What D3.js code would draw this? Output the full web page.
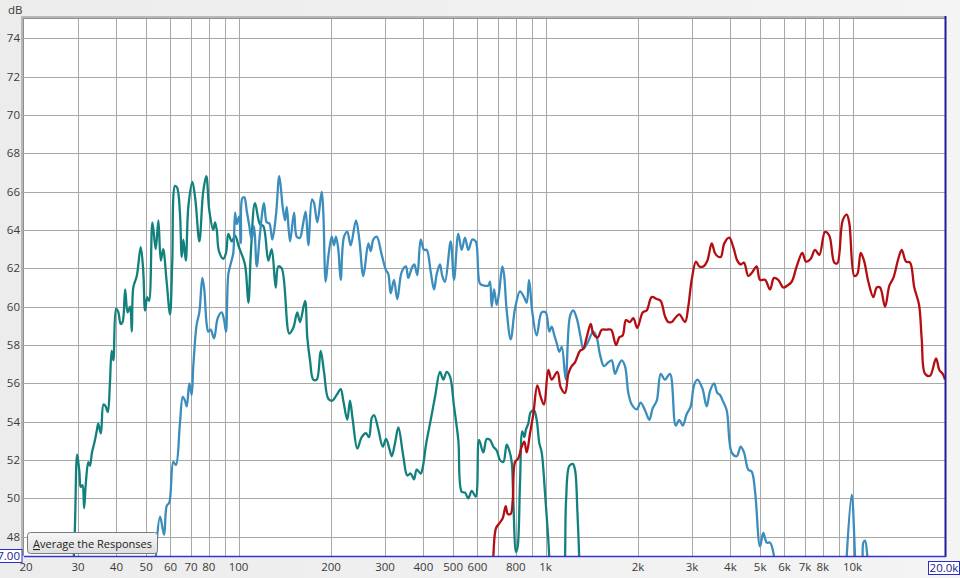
<!DOCTYPE html>
<html>
<head>
<meta charset="utf-8">
<script src="https://cdn.jsdelivr.net/npm/d3@7"></script>
<style>
	html, body { margin: 0; padding: 0; background: #f0f0f0; }
	svg { display: block; font-family: "Segoe UI", "Open Sans", sans-serif; }
</style>
</head>
<body>
<div id="chart"></div>
<script>
// frequency axis
const xGridValues = [20, 30, 40, 50, 60, 70, 80, 90, 100, 200, 300, 400, 500, 600, 700, 800, 900,
	1000, 2000, 3000, 4000, 5000, 6000, 7000, 8000, 9000, 10000, 20000];
const xTickValues = [20, 30, 40, 50, 60, 70, 80, 100, 200, 300, 400, 500, 600, 800,
	1000, 2000, 3000, 4000, 5000, 6000, 7000, 8000, 10000, 20000];
const xTickLabels = ['20', '30', '40', '50', '60', '70', '80', '100', '200', '300', '400', '500', '600', '800',
	'1k', '2k', '3k', '4k', '5k', '6k', '7k', '8k', '10k', '20k'];
const yTickValues = [48, 50, 52, 54, 56, 58, 60, 62, 64, 66, 68, 70, 72, 74];

// woofer (teal)
const wooferFreq = [28.7, 29.3, 29.8, 30.3, 30.6, 31.0, 31.4, 31.8, 32.4, 32.8, 33.3, 33.9, 34.5, 34.9, 35.6, 36.3, 36.9, 37.5,
	38.1, 38.6, 39.1, 39.9, 40.6, 41.3, 41.9, 42.7, 43.5, 44.3, 44.9, 45.4, 46.6, 48.0, 48.9, 49.6, 50.4, 51.1,
	52.4, 53.7, 54.8, 55.8, 56.8, 58.3, 59.8, 60.8, 62.1, 63.1, 64.4, 65.3, 66.1, 67.3, 68.6, 70.7, 72.3, 74.5,
	76.7, 78.5, 80.3, 82.7, 83.8, 84.9, 86.3, 89.2, 91.0, 92.6, 95.0, 97.4, 100.3, 104.9, 107.6, 109.8, 113.1,
	117.4, 120.4, 125.0, 128.2, 132.1, 134.7, 138.2, 146.3, 150.8, 155.3, 158.5, 164.6, 167.4, 170.9, 175.1,
	179.7, 185.1, 189.8, 196.0, 201.9, 208.7, 215.1, 219.3, 226.0, 230.6, 235.4, 243.7, 251.8, 260.0, 266.0,
	271.5, 276.2, 285.2, 294.8, 302.2, 309.8, 315.4, 323.4, 331.5, 344.0, 354.4, 363.6, 372.8, 380.4, 392.0,
	397.8, 407.8, 422.6, 436.4, 453.0, 464.4, 476.4, 488.4, 503.2, 519.6, 533.0, 546.4, 560.2, 574.6, 592.2,
	607.0, 626.8, 643.0, 659.2, 675.8, 693.0, 710.4, 728.2, 747.0, 761.8, 775.6, 785.0, 801.0, 811.2, 825.4,
	839.8, 852.4, 863.4, 878.4, 894.4, 916.6, 935.4, 953.8, 971.2, 995.6, 1021, 1042, 1100, 1148, 1166,
	1195, 1226, 1247, 1269, 1295];
const wooferDb = [44.7, 48.5, 52.3, 51.4, 50.6, 50.7, 49.5, 50.8, 51.9, 51.7, 52.4, 52.9, 53.5, 53.9, 53.4, 54.9, 54.8, 54.5,
	56.0, 57.7, 57.2, 59.9, 59.7, 59.1, 59.2, 60.9, 59.7, 60.0, 58.7, 61.0, 61.6, 63.1, 61.9, 59.8, 60.5, 60.3,
	64.4, 63.0, 64.5, 62.4, 63.0, 61.3, 59.6, 62.3, 66.3, 66.2, 64.9, 62.6, 63.5, 62.4, 65.2, 66.5, 65.6, 63.4,
	66.0, 66.8, 65.0, 64.0, 64.4, 64.0, 62.9, 62.5, 62.8, 63.8, 63.4, 63.7, 63.1, 62.2, 60.2, 63.0, 65.4,
	64.3, 64.2, 62.4, 63.0, 61.0, 62.1, 62.0, 58.6, 58.9, 59.7, 59.2, 60.3, 58.4, 57.2, 56.2,
	56.2, 57.7, 56.6, 55.2, 55.1, 55.4, 55.7, 55.1, 54.1, 55.1, 54.1, 52.6, 53.2, 53.4, 53.2,
	54.2, 54.35, 53.6, 52.7, 53.1, 52.6, 52.2, 52.9, 53.7, 52.2, 51.2, 51.3, 51.0, 51.5, 51.3,
	51.6, 52.8, 54.1, 55.3, 56.6, 56.2, 56.6, 56.35, 54.8, 53.05, 50.35, 50.3, 50.0, 50.4, 50.1,
	53.05, 52.4, 53.1, 53.05, 52.7, 52.5, 52.0, 51.9, 52.8, 52.5, 51.9, 49.9, 47.2, 47.5, 50.8,
	53.5, 53.2, 53.6, 53.9, 54.5, 54.6, 54.1, 52.9, 52.4, 50.3, 47.8, 45.7, 44.0, 45.7, 49.9,
	51.7, 51.8, 51.5, 49.4, 45.7];

// mid (blue)
const midFreq = [53.4, 54.1, 55.5, 57.2, 58.3, 59.5, 61.3, 62.5, 64.4, 65.8, 66.9, 67.8, 69.1, 70.3, 71.2, 73.0, 74.5,
	76.2, 77.3, 78.7, 79.7, 81.1, 83.2, 85.5, 88.1, 89.7, 91.0, 92.6, 94.5, 96.1, 97.4, 98.6, 100.3, 101.8,
	102.8, 104.4, 106.3, 108.4, 110.3, 112.3, 114.6, 117.4, 121.0, 123.5, 125.9, 128.8, 132.4, 135.7, 139.2,
	141.7, 143.5, 147.1, 151.6, 154.7, 158.5, 161.7, 165.4, 168.7, 173.4, 176.1, 180.5, 186.5, 188.8, 192.2,
	196.0, 201.1, 204.5, 207.6, 211.2, 215.1, 220.5, 226.0, 231.8, 241.2, 247.3, 254.9, 264.6, 269.4, 274.7,
	281.8, 292.6, 302.2, 307.5, 313.0, 320.8, 328.8, 339.8, 350.9, 357.0, 366.4, 373.6, 382.0, 392.0, 401.8,
	410.0, 422.6, 433.2, 442.0, 453.0, 460.8, 470.2, 490.8, 503.2, 519.6, 533.0, 546.4, 560.2, 577.2, 592.2,
	611.6, 630.2, 650.8, 659.2, 667.6, 679.2, 693.0, 705.2, 722.8, 732.0, 747.0, 769.8, 795.2, 825.4, 850.6,
	868.0, 883.2, 905.4, 935.4, 971.2, 1001, 1028, 1047, 1068, 1087, 1108, 1129, 1163, 1201, 1231, 1263, 1301,
	1327, 1368, 1430, 1467, 1504, 1550, 1601, 1642, 1683, 1725, 1770, 1814, 1860, 1908, 1981, 2040, 2108,
	2178, 2232, 2302, 2372, 2448, 2542, 2654, 2726, 2798, 2882, 2970, 3044, 3122, 3240, 3348, 3432, 3538,
	3626, 3700, 3774, 3890, 4038, 4192, 4320, 4428, 4574, 4692, 4810, 4994, 5118, 5252, 5384, 5546, 5674,
	9448, 9570, 9936, 10184, 10338, 10652, 10838, 10976, 11168, 11310];
const midDb = [44.7, 47.7, 49.05, 48.1, 49.6, 49.8, 51.9, 51.75, 53.9, 55.3, 55.1, 54.8, 56.0, 55.4, 56.9, 59.05, 59.7,
	61.5, 60.9, 59.1, 58.7, 58.8, 58.35, 59.4, 59.7, 59.3, 58.7, 61.7, 62.3, 62.8, 64.9, 64.3, 64.7, 63.3,
	65.65, 65.7, 65.0, 64.2, 63.5, 64.2, 62.1, 63.8, 65.4, 64.4, 64.35, 63.5, 64.8, 66.8, 65.2,
	64.5, 65.2, 63.4, 64.9, 63.65, 63.6, 64.2, 64.95, 63.2, 65.6, 65.4, 64.4, 66.0, 64.9, 61.3,
	62.6, 63.65, 63.2, 63.65, 63.0, 61.4, 63.65, 63.9, 63.2, 64.5, 63.5, 61.6, 63.3, 62.9, 63.5,
	63.65, 62.7, 61.9, 61.7, 60.7, 61.4, 60.4, 61.8, 62.1, 61.5, 62.0, 62.2, 61.65, 63.5, 62.96,
	62.96, 61.8, 60.9, 61.7, 62.2, 61.6, 61.3, 63.4, 61.4, 63.8, 62.96, 63.6, 62.96, 63.5, 63.4,
	61.2, 61.1, 61.1, 61.3, 60.0, 60.9, 60.1, 60.7, 62.1, 61.7, 59.8, 58.3, 59.9, 60.8, 60.5,
	60.2, 61.4, 59.7, 58.5, 59.7, 59.7, 58.7, 58.96, 58.5, 58.1, 57.65, 57.9, 56.2, 59.5, 59.8, 59.4, 58.4,
	57.8, 58.1, 58.7, 58.4, 57.5, 56.9, 57.1, 57.2, 56.5, 56.9, 57.2, 56.9, 55.5, 54.9, 54.65, 55.0, 54.6,
	54.1, 54.7, 55.1, 56.5, 56.2, 56.5, 53.8, 54.1, 53.8, 54.4, 54.8, 55.9, 56.2, 55.75, 54.8, 55.6, 56.0,
	55.5, 55.4, 55.1, 54.6, 52.4, 52.2, 52.7, 52.4, 51.5, 51.4, 50.4, 47.5, 48.2, 47.7, 47.7, 47.0, 44.7,
	44.7, 47.0, 50.2, 47.0, 44.7, 44.7, 47.7, 47.8, 47.0, 44.7];

// tweeter (red)
const tweeterFreq = [668.8, 675.8, 689.4, 706.8, 725.0, 741.6, 752.8, 769.8, 781.6, 795.2, 815.2, 836.0, 852.4, 868.0,
	889.8, 912.0, 939.8, 964.0, 988.2, 1021, 1047, 1092, 1120, 1157, 1186, 1216, 1247, 1295, 1327, 1361, 1403,
	1430, 1478, 1524, 1581, 1634, 1696, 1738, 1783, 1828, 1883, 1931, 1989, 2072, 2134, 2216, 2302, 2372,
	2448, 2510, 2576, 2640, 2726, 2846, 2916, 2992, 3090, 3168, 3264, 3364, 3476, 3562, 3652, 3726, 3820,
	3966, 4088, 4212, 4320, 4428, 4574, 4714, 4870, 4994, 5186, 5384, 5546, 5728, 5948, 6128, 6334, 6576,
	6858, 7052, 7304, 7544, 7792, 8132, 8398, 8718, 8918, 9286, 9570, 9758, 10134, 10360, 10628, 10896,
	11254, 11684, 11986, 12288, 12758, 13176, 13576, 14094, 14456, 14930, 15382, 15886, 16462, 16798,
	17218, 17872, 18698, 19166, 19662, 20000];
const tweeterDb = [44.7, 47.0, 48.45, 48.7, 48.97, 49.6, 49.2, 49.2, 49.9, 51.9, 52.1, 52.7, 52.96, 52.4,
	53.4, 54.4, 55.9, 55.3, 54.9, 56.7, 56.2, 56.6, 55.8, 55.5, 56.5, 56.9, 57.1, 57.7, 57.8, 58.4, 59.1,
	58.6, 58.4, 58.8, 58.8, 58.8, 58.0, 58.4, 58.5, 59.3, 59.2, 59.4, 58.9, 59.7, 59.8, 60.5, 60.4, 60.3,
	59.5, 59.2, 59.2, 59.4, 59.6, 59.2, 60.0, 61.4, 62.35, 62.1, 62.1, 62.4, 63.3, 62.8, 62.6, 62.6, 63.3,
	63.6, 63.1, 62.4, 62.2, 62.3, 61.6, 61.8, 62.1, 61.4, 61.4, 60.9, 61.5, 61.4, 61.0, 61.1, 61.3, 62.1,
	62.8, 62.35, 62.5, 62.96, 62.7, 63.9, 63.7, 62.3, 62.26, 64.5, 64.8, 64.35, 61.6, 61.7, 62.8, 62.4,
	61.3, 60.5, 61.0, 61.0, 60.0, 61.1, 61.5, 62.5, 62.96, 62.35, 62.3, 61.0, 60.1, 58.3,
	56.5, 56.4, 57.3, 56.7, 56.5, 56.2];

const seriesColors = ['#12807c', '#3b8dbd', '#b40d12'];

class ResponseChart
{
	#svg;
	#x;
	#y;
	#margin = {top: 19, right: 15, bottom: 22, left: 24};

	constructor(container, width, height)
	{
		this.width = width;
		this.height = height;
		this.#svg = d3.select(container)
			.append("svg")
				.attr("width", width)
				.attr("height", height);
		this.#x = d3.scaleLog()
			.domain([20, 20000])
			.range([this.#margin.left, width - this.#margin.right]);
		this.#y = d3.scaleLinear()
			.domain([47, 75])
			.range([height - this.#margin.bottom, this.#margin.top]);
		this.#drawFrame();
		this.#drawGrid();
	}

	#drawFrame() {
		var m = this.#margin;
		var svg = this.#svg;
		var bg = svg.append("defs")
			.append("linearGradient")
				.attr("id", "bg-grad")
				.attr("x1", 0).attr("x2", 1).attr("y1", 0).attr("y2", 0);
		bg.append("stop").attr("offset", "0%").attr("stop-color", "#ececec");
		bg.append("stop").attr("offset", "100%").attr("stop-color", "#f4f4f4");
		svg.append("rect")
			.attr("width", this.width)
			.attr("height", this.height)
			.attr("fill", "url(#bg-grad)");
		// sunken shadow on top and left of the plot
		svg.append("rect")
			.attr("x", m.left - 3)
			.attr("y", m.top - 3)
			.attr("width", this.width - m.left - m.right + 3)
			.attr("height", this.height - m.top - m.bottom + 3)
			.attr("fill", "#b8b8b8");
		svg.append("rect")
			.attr("x", m.left - 1)
			.attr("y", m.top - 1)
			.attr("width", this.width - m.left - m.right + 1)
			.attr("height", this.height - m.top - m.bottom + 1)
			.attr("fill", "#8e8e8e");
		svg.append("rect")
			.attr("x", m.left)
			.attr("y", m.top)
			.attr("width", this.width - m.left - m.right)
			.attr("height", this.height - m.top - m.bottom)
			.attr("fill", "white");
		svg.append("clipPath")
			.attr("id", "plot-clip")
			.append("rect")
				.attr("x", m.left)
				.attr("y", m.top)
				.attr("width", this.width - m.left - m.right)
				.attr("height", this.height - m.top - m.bottom);
	}

	#drawGrid() {
		var m = this.#margin;
		var x = this.#x, y = this.#y;
		var svg = this.#svg;
		var grid = svg.append("g").attr("stroke", "#a8a8a8").attr("stroke-width", 1);
		grid.selectAll("line.v")
			.data(xGridValues.slice(1, -1))
			.enter()
			.append("line")
				.attr("x1", d => Math.round(x(d)) + 0.5)
				.attr("x2", d => Math.round(x(d)) + 0.5)
				.attr("y1", m.top)
				.attr("y2", this.height - m.bottom);
		grid.selectAll("line.h")
			.data(yTickValues)
			.enter()
			.append("line")
				.attr("x1", m.left - 3)
				.attr("x2", this.width - m.right)
				.attr("y1", d => Math.round(y(d)) + 0.5)
				.attr("y2", d => Math.round(y(d)) + 0.5);

		svg.append("g")
			.selectAll("text")
			.data(yTickValues)
			.enter()
			.append("text")
				.attr("x", m.left - 4)
				.attr("y", d => y(d) + 4)
				.attr("text-anchor", "end")
				.attr("font-size", "11.5px")
				.attr("fill", "#3a3a3a")
				.text(d => d);
		svg.append("text")
			.attr("x", 8)
			.attr("y", 14)
			.attr("font-size", "11.5px")
			.attr("fill", "#3a3a3a")
			.text("dB");

		svg.append("g")
			.selectAll("text")
			.data(xTickValues)
			.enter()
			.append("text")
				.attr("x", (d, i) => x(d) + (i == 0 ? 2 : 0))
				.attr("y", this.height - 7)
				.attr("text-anchor", "middle")
				.attr("font-size", "11.5px")
				.attr("fill", "#3a3a3a")
				.text((d, i) => xTickLabels[i]);
	}

	addTrace(freqs, dbs, color) {
		var x = this.#x, y = this.#y;
		var points = freqs.map((f, i) => [f, dbs[i]]);
		var line = d3.line()
			.curve(d3.curveCatmullRom.alpha(0.5))
			.x(d => x(d[0]))
			.y(d => y(d[1]));
		this.#svg.append("path")
			.datum(points)
			.attr("clip-path", "url(#plot-clip)")
			.attr("d", line)
			.attr("fill", "none")
			.attr("stroke", color)
			.attr("stroke-width", 2.3)
			.attr("stroke-linejoin", "round");
	}

	drawOverlay() {
		var m = this.#margin;
		var svg = this.#svg;
		var right = this.width - m.right;
		var bottom = this.height - m.bottom;
		svg.append("line")
			.attr("x1", right + 0.5).attr("x2", right + 0.5)
			.attr("y1", m.top - 3).attr("y2", bottom + 1)
			.attr("stroke", "#1e1e9a").attr("stroke-width", 2);
		svg.append("line")
			.attr("x1", m.left).attr("x2", right + 1)
			.attr("y1", bottom + 0.5).attr("y2", bottom + 0.5)
			.attr("stroke", "#3434c8").attr("stroke-width", 1.5);

		// range boxes at both ends of the axes
		svg.append("rect")
			.attr("x", -10).attr("y", 549.5)
			.attr("width", 32).attr("height", 13)
			.attr("fill", "white").attr("stroke", "#2b2bd0");
		svg.append("text")
			.attr("x", 20).attr("y", 560)
			.attr("text-anchor", "end")
			.attr("font-size", "11.5px")
			.attr("fill", "#1c1c8c")
			.text("47.00");
		svg.append("rect")
			.attr("x", 928.5).attr("y", 561.5)
			.attr("width", 31).attr("height", 13)
			.attr("fill", "white").attr("stroke", "#2b2bd0");
		svg.append("text")
			.attr("x", 944).attr("y", 572)
			.attr("text-anchor", "middle")
			.attr("font-size", "11.5px")
			.attr("fill", "#1c1c8c")
			.text("20.0k");

		var grad = svg.append("defs")
			.append("linearGradient")
				.attr("id", "btn-grad")
				.attr("x1", 0).attr("x2", 0).attr("y1", 0).attr("y2", 1);
		grad.append("stop").attr("offset", "0%").attr("stop-color", "#f7f7f7");
		grad.append("stop").attr("offset", "100%").attr("stop-color", "#dedede");
		svg.append("rect")
			.attr("x", 27.5).attr("y", 532.5)
			.attr("width", 130).attr("height", 21)
			.attr("rx", 3)
			.attr("fill", "url(#btn-grad)")
			.attr("stroke", "#7a7a7a");
		var label = svg.append("text")
			.attr("x", 33).attr("y", 548)
			.attr("font-size", "11px")
			.attr("fill", "#222");
		label.append("tspan").attr("text-decoration", "underline").text("A");
		label.append("tspan").text("verage the Responses");
	}
}

var chart = new ResponseChart(document.getElementById('chart'), 960, 578);
chart.addTrace(wooferFreq, wooferDb, seriesColors[0]);
chart.addTrace(midFreq, midDb, seriesColors[1]);
chart.addTrace(tweeterFreq, tweeterDb, seriesColors[2]);
chart.drawOverlay();
</script>
</body>
</html>
